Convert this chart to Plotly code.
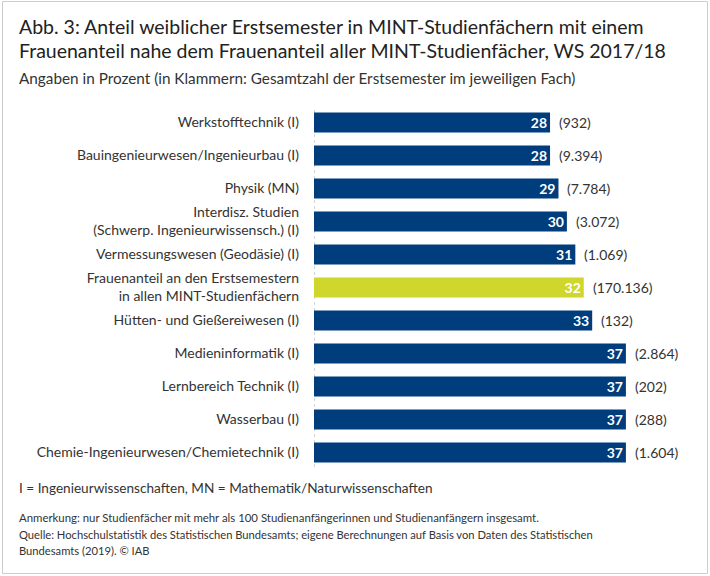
import plotly.graph_objects as go

categories = [
    "Werkstofftechnik (I)",
    "Bauingenieurwesen/Ingenieurbau (I)",
    "Physik (MN)",
    "Interdisz. Studien<br>(Schwerp. Ingenieurwissensch.) (I)",
    "Vermessungswesen (Geodäsie) (I)",
    "Frauenanteil an den Erstsemestern<br>in allen MINT-Studienfächern",
    "Hütten- und Gießereiwesen (I)",
    "Medieninformatik (I)",
    "Lernbereich Technik (I)",
    "Wasserbau (I)",
    "Chemie-Ingenieurwesen/Chemietechnik (I)",
]
shares = [28, 28, 29, 30, 31, 32, 33, 37, 37, 37, 37]
totals = ["932", "9.394", "7.784", "3.072", "1.069", "170.136", "132", "2.864", "202", "288", "1.604"]
highlight_index = 5

W, H = 710, 576
ML, MR, MT, MB = 314, 6, 106, 107
PW, PH = W - ML - MR, H - MT - MB

def px2x(px):
    return (px - ML) / PW

def px2y(py):
    return (H - MB - py) / PH

FONT = "Source Sans Pro, Lato, Roboto, sans-serif"
BLUE = "#003d7c"
YELLOW = "#cfd62c"
TXT = "#333333"

colors = [YELLOW if i == highlight_index else BLUE for i in range(len(shares))]
ys = list(range(len(categories)))

fig = go.Figure()
fig.add_trace(go.Bar(
    x=shares, y=ys, orientation="h",
    marker=dict(color=colors, line=dict(width=0)),
    width=0.61,
    text=[str(v) for v in shares],
    textposition="inside", insidetextanchor="end",
    constraintext="none",
    textfont=dict(family=FONT, size=14, color="white", weight="bold"),
    textangle=0,
    hoverinfo="skip",
))

annotations = []
for i, (v, t) in enumerate(zip(shares, totals)):
    annotations.append(dict(x=v, y=i, xref="x", yref="y", text=f"({t})",
                            showarrow=False, xanchor="left", yanchor="middle",
                            xshift=7, font=dict(family=FONT, size=14, color=TXT)))

def text_ann(px, py, text, size, color=TXT):
    annotations.append(dict(x=px2x(px), y=px2y(py), xref="paper", yref="paper", text=text,
                            showarrow=False, xanchor="left", yanchor="middle",
                            font=dict(family=FONT, size=size, color=color)))

text_ann(17, 26, "Abb. 3: Anteil weiblicher Erstsemester in MINT-Studienfächern mit einem", 19.5, "#222222")
text_ann(17, 50, "Frauenanteil nahe dem Frauenanteil aller MINT-Studienfächer, WS 2017/18", 19.5, "#222222")
text_ann(17, 78, "Angaben in Prozent (in Klammern: Gesamtzahl der Erstsemester im jeweiligen Fach)", 15.3)
text_ann(17, 488, "I = Ingenieurwissenschaften, MN = Mathematik/Naturwissenschaften", 13.6)
text_ann(17, 517, "Anmerkung: nur Studienfächer mit mehr als 100 Studienanfängerinnen und Studienanfängern insgesamt.", 11.4)
text_ann(17, 534, "Quelle: Hochschulstatistik des Statistischen Bundesamts; eigene Berechnungen auf Basis von Daten des Statistischen", 11.2)
text_ann(17, 550, "Bundesamts (2019). © IAB", 11.2)

shapes = [
    dict(type="rect", xref="paper", yref="paper",
         x0=px2x(2.5), x1=px2x(707.5), y0=px2y(573.5), y1=px2y(1.5),
         line=dict(color="#cccccc", width=1), fillcolor="rgba(0,0,0,0)", layer="below"),
    dict(type="line", xref="x", yref="paper", x0=0, x1=0, y0=px2y(467), y1=px2y(108),
         line=dict(color="#aaaaaa", width=1, dash="dot"), layer="below"),
]

fig.update_layout(
    width=W, height=H,
    margin=dict(l=ML, r=MR, t=MT, b=MB),
    paper_bgcolor="white", plot_bgcolor="white",
    showlegend=False,
    font=dict(family=FONT, color=TXT),
    xaxis=dict(range=[0, PW / 8.43], visible=False, fixedrange=True),
    yaxis=dict(range=[len(categories) - 0.5, -0.5], tickmode="array", tickvals=ys,
               ticktext=categories, showgrid=False, zeroline=False, showline=False,
               ticks="", ticklabelstandoff=14, tickfont=dict(family=FONT, size=14, color=TXT),
               fixedrange=True),
    annotations=annotations,
    shapes=shapes,
)

fig.write_html("out.html", config={"displayModeBar": False},
               post_script="document.body.style.margin='0px';document.body.style.overflow='hidden';")
